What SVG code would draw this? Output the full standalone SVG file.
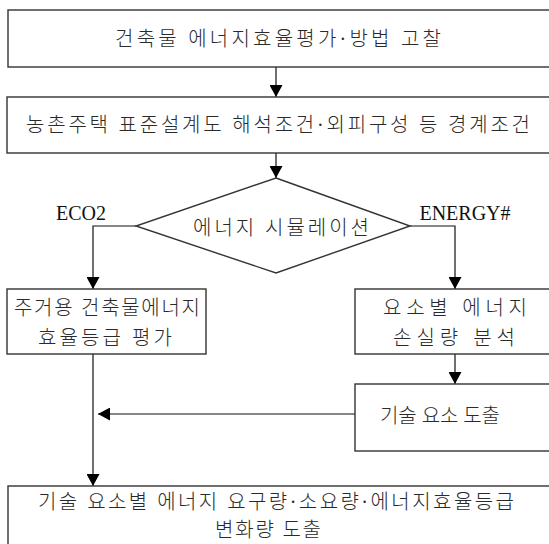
<svg xmlns="http://www.w3.org/2000/svg" width="549" height="544" viewBox="0 0 549 544">
<defs>
<style>
.box{fill:#fff;stroke:#333;stroke-width:1.4}
.ln{fill:none;stroke:#111;stroke-width:1.2}
.t{font-family:"Liberation Serif","Noto Sans CJK KR",serif;font-size:20px;font-weight:300;fill:#2a2a2a;text-anchor:middle;dominant-baseline:central}
.lat{font-family:"Liberation Serif",serif;font-size:20px;fill:#111;text-anchor:middle;dominant-baseline:central}
</style>
<marker id="ah" viewBox="0 0 12 13" refX="12" refY="6.5" markerWidth="12" markerHeight="13" markerUnits="userSpaceOnUse" orient="auto">
<path d="M0,0 L12,6.5 L0,13 z" fill="#000"/>
</marker>
</defs>
<rect width="549" height="544" fill="#fff"/>
<g id="connectors">
<line class="ln" x1="276" y1="67" x2="276" y2="97" marker-end="url(#ah)"/>
<line class="ln" x1="276" y1="153" x2="276" y2="178" marker-end="url(#ah)"/>
<polyline class="ln" points="136,226 93,226 93,289" marker-end="url(#ah)"/>
<polyline class="ln" points="410,226 455,226 455,289" marker-end="url(#ah)"/>
<line class="ln" x1="455" y1="354" x2="455" y2="384" marker-end="url(#ah)"/>
<line class="ln" x1="355" y1="414" x2="98" y2="414" marker-end="url(#ah)"/>
<line class="ln" x1="93" y1="354" x2="93" y2="486" marker-end="url(#ah)"/>
</g>
<g id="n1">
<rect class="box" x="8" y="10" width="600" height="57"/>
<text class="t" x="278" y="39" textLength="326" lengthAdjust="spacing">건축물 에너지효율평가·방법 고찰</text>
</g>
<g id="n2">
<rect class="box" x="7" y="97" width="600" height="56"/>
<text class="t" x="278" y="125" textLength="504" lengthAdjust="spacing">농촌주택 표준설계도 해석조건·외피구성 등 경계조건</text>
</g>
<g id="n3">
<polygon class="box" points="276,178 410,226 276,273 136,226"/>
<text class="t" x="281" y="228" textLength="176" lengthAdjust="spacing">에너지 시뮬레이션</text>
</g>
<g id="lbl">
<text class="lat" x="81" y="213">ECO2</text>
<text class="lat" x="465" y="213">ENERGY#</text>
</g>
<g id="n4">
<rect class="box" x="7" y="289" width="199" height="65"/>
<text class="t" x="107" y="308" textLength="186" lengthAdjust="spacing">주거용 건축물에너지</text>
<text class="t" x="105" y="338" textLength="134" lengthAdjust="spacing">효율등급 평가</text>
</g>
<g id="n5">
<rect class="box" x="355" y="289" width="300" height="65"/>
<text class="t" x="455" y="308" textLength="144" lengthAdjust="spacing">요소별 에너지</text>
<text class="t" x="454" y="338" textLength="122" lengthAdjust="spacing">손실량 분석</text>
</g>
<g id="n6">
<rect class="box" x="355" y="384" width="300" height="67"/>
<text class="t" x="440" y="416" textLength="120" lengthAdjust="spacing">기술 요소 도출</text>
</g>
<g id="n7">
<rect class="box" x="8" y="486" width="600" height="80"/>
<text class="t" x="276" y="502" textLength="476" lengthAdjust="spacing">기술 요소별 에너지 요구량·소요량·에너지효율등급</text>
<text class="t" x="268" y="530" textLength="106" lengthAdjust="spacing">변화량 도출</text>
</g>
</svg>
